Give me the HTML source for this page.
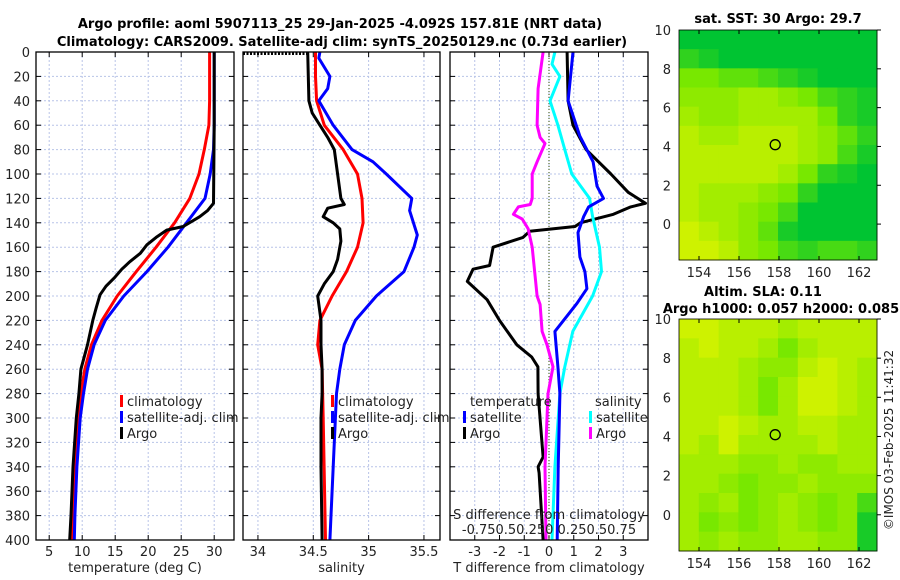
<!DOCTYPE html>
<html><head><meta charset="utf-8"><style>
html,body{margin:0;padding:0;background:#fff;}
svg{display:block;font-family:"DejaVu Sans","Liberation Sans",sans-serif;}
</style></head><body>
<svg id="fig" width="900" height="580" viewBox="0 0 900 580" xmlns="http://www.w3.org/2000/svg">
<text x="340" y="28" font-size="13" font-weight="bold" text-anchor="middle" fill="#000">Argo profile: aoml 5907113_25 29-Jan-2025 -4.092S 157.81E (NRT data)</text>
<text x="342" y="46" font-size="13" font-weight="bold" text-anchor="middle" fill="#000">Climatology: CARS2009. Satellite-adj clim: synTS_20250129.nc (0.73d earlier)</text>
<text x="778" y="23" font-size="13" font-weight="bold" text-anchor="middle">sat. SST: 30 Argo: 29.7</text>
<text x="763" y="296" font-size="13" font-weight="bold" text-anchor="middle">Altim. SLA: 0.11</text>
<text x="781" y="313" font-size="13" font-weight="bold" text-anchor="middle">Argo h1000: 0.057 h2000: 0.085</text>
<text transform="translate(893,440) rotate(-90)" font-size="12" text-anchor="middle" fill="#222">©IMOS 03-Feb-2025 11:41:32</text>
<g id="plots"></g>
</svg>
<script>
// ---- depths and series (temperature panel)
const tClimDepth=[0,20,40,60,80,100,120,140,160,180,200,220,240,260,280,300,340,380,400];
const tClimVal=[29.3,29.3,29.3,29.2,28.5,27.7,26.3,24.0,21.2,18.2,15.3,13.0,11.4,10.4,9.8,9.4,8.9,8.6,8.5];
const tSatDepth=[0,60,80,100,120,140,160,180,200,220,240,260,280,300,340,380,400];
const tSatVal=[30.0,30.0,29.9,29.4,28.6,25.8,23.0,19.8,16.3,13.5,11.8,10.8,10.2,9.7,9.2,8.9,8.8];
const tArgoDepth=[0,60,124,130,135,143,146,152,158,165,172,178,185,192,199,210,220,240,260,280,300,340,380,400];
const tArgoVal=[30.0,30.0,29.9,29.0,27.8,25.3,22.8,21.2,19.8,18.8,17.2,16.0,14.9,13.6,12.7,12.1,11.6,10.8,9.8,9.5,9.1,8.6,8.3,8.1];
// salinity panel
const sClimDepth=[0,20,40,60,80,100,120,140,160,180,200,220,240,260,300,400];
const sClimVal=[34.52,34.52,34.53,34.60,34.77,34.90,34.94,34.95,34.90,34.80,34.67,34.56,34.54,34.58,34.59,34.61];
const sSatDepth=[0,5,20,30,40,60,80,90,100,120,130,150,160,180,200,220,240,260,280,300,340,400];
const sSatVal=[34.56,34.55,34.65,34.63,34.55,34.68,34.85,35.04,35.16,35.39,35.37,35.44,35.41,35.32,35.07,34.88,34.78,34.74,34.71,34.70,34.68,34.65];
const sArgoDepth=[0,40,50,60,70,80,100,120,125,128,135,140,145,155,170,180,190,200,220,240,260,280,300,340,400];
const sArgoVal=[34.45,34.46,34.49,34.56,34.63,34.69,34.72,34.75,34.78,34.63,34.59,34.68,34.74,34.75,34.72,34.68,34.60,34.54,34.57,34.57,34.58,34.58,34.57,34.57,34.58];
// difference panel
const dTSatDepth=[0,40,69,90,110,120,127,135,148,168,180,194,206,229,258,280,340,400];
const dTSatVal=[0.97,0.77,1.25,1.78,1.94,2.2,1.6,1.4,1.17,1.25,1.45,1.53,1.13,0.24,0.36,0.44,0.37,0.33];
const dTArgoDepth=[0,40,60,80,100,115,124,127,133,140,143,147,152,160,175,178,188,203,220,240,250,258,280,332,340,345,400];
const dTArgoVal=[0.73,0.77,0.97,1.5,2.5,3.2,3.9,3.3,2.6,1.27,1.05,-0.78,-1.05,-2.26,-2.4,-3.07,-3.3,-2.5,-2.0,-1.3,-0.7,-0.45,-0.44,-0.24,-0.44,-0.4,-0.24];
const dSArgoDepth=[0,30,60,70,75,90,100,120,125,127,133,137,145,160,200,207,229,240,258,280,340,400];
const dSArgoVal=[-0.06,-0.11,-0.12,-0.09,-0.04,-0.12,-0.17,-0.17,-0.19,-0.31,-0.36,-0.27,-0.21,-0.17,-0.12,-0.09,-0.07,-0.02,0.04,-0.01,-0.04,-0.03];
const dSSatDepth=[0,10,20,40,60,80,100,120,135,160,180,200,229,258,280,340,400];
const dSSatVal=[0.06,0.03,0.11,0.01,0.09,0.16,0.23,0.41,0.44,0.51,0.53,0.44,0.24,0.16,0.11,0.06,0.03];
// axes ticks
const depthTicks=[0,20,40,60,80,100,120,140,160,180,200,220,240,260,280,300,320,340,360,380,400];
const tTicks=[5,10,15,20,25,30];
const sTicks=[34,34.5,35,35.5];
const sTickLabels=["34","34.5","35","35.5"];
const dTTicks=[-3,-2,-1,0,1,2,3];
// maps
const mapLonTicks=[154,156,158,160,162];
const mapLatTicks=[0,2,4,6,8];
const sstGrid=[
[0,0,0,0,0,0,0,0,0,0],
[.2,.1,0,0,0,0,0,0,0,0],
[.5,.5,.4,.4,.3,.2,.1,0,0,0],
[.6,.6,.6,.7,.7,.6,.5,.3,.2,.1],
[.7,.6,.6,.7,.7,.7,.7,.5,.2,.1],
[.8,.7,.7,.8,.8,.8,.7,.6,.4,.2],
[.8,.8,.8,.8,.8,.8,.7,.6,.3,.1],
[.8,.8,.8,.8,.8,.7,.5,.2,.1,0],
[.8,.7,.7,.7,.6,.5,.2,0,0,0],
[.8,.7,.7,.6,.5,.3,0,0,0,0],
[.9,.8,.7,.6,.4,.1,0,0,0,0],
[.9,.9,.8,.6,.5,.3,.2,.3,.3,.2]];
const slaGrid=[
[.9,.9,.8,.8,.8,.7,.8,.8,.8,.8],
[.8,.9,.8,.8,.7,.5,.7,.8,.8,.8],
[.8,.8,.8,.7,.6,.6,.8,.9,.8,.7],
[.8,.8,.8,.7,.5,.7,.9,.9,.8,.7],
[.8,.8,.8,.7,.5,.7,.9,.9,.8,.7],
[.8,.8,.9,.8,.7,.7,.8,.8,.7,.7],
[.8,.7,.9,.7,.7,.7,.7,.8,.7,.7],
[.7,.7,.7,.6,.6,.7,.6,.6,.7,.7],
[.7,.7,.6,.5,.6,.6,.7,.6,.6,.6],
[.7,.6,.7,.5,.6,.7,.6,.5,.6,.3],
[.7,.5,.6,.5,.6,.7,.6,.5,.6,.1],
[.7,.6,.7,.6,.6,.7,.7,.6,.6,.1]];
const argoLon=[157.81];
const argoLat=[4.09];

const NS="http://www.w3.org/2000/svg";
const root=document.getElementById('plots');
function el(tag,attrs,parent){const e=document.createElementNS(NS,tag);for(const k in attrs)e.setAttribute(k,attrs[k]);(parent||root).appendChild(e);return e;}
const Y0=52,Y1=540;
function yD(d){return Y0+(d/400)*(Y1-Y0);}

function panel(name,x0,x1,dmin,dmax,ticks,labels,xlabel,showDepth){
  const g=el('g',{});
  
  
  const xs=v=>x0+(v-dmin)/(dmax-dmin)*(x1-x0);
  depthTicks.forEach(d=>{
    const l=el('line',{x1:x0,x2:x1,y1:yD(d),y2:yD(d),stroke:'#b8c4e8','stroke-width':1,'stroke-dasharray':'2,2'},g);
    
    
    el('line',{x1:x0,x2:x0+5,y1:yD(d),y2:yD(d),stroke:'#000'},g);
    el('line',{x1:x1-5,x2:x1,y1:yD(d),y2:yD(d),stroke:'#000'},g);
    if(showDepth){const t=el('text',{x:x0-6,y:yD(d)+5,'font-size':13,'text-anchor':'end',fill:'#222'},g);t.textContent=d;
      
      }
  });
  ticks.forEach((v,i)=>{
    const x=xs(v);
    el('line',{x1:x,x2:x,y1:Y0,y2:Y1,stroke:'#b8c4e8','stroke-width':1,'stroke-dasharray':'2,2'},g);
    el('line',{x1:x,x2:x,y1:Y1,y2:Y1-5,stroke:'#000'},g);
    el('line',{x1:x,x2:x,y1:Y0,y2:Y0+5,stroke:'#000'},g);
    const t=el('text',{x:x,y:556,'font-size':13,'text-anchor':'middle',fill:'#222'},g);t.textContent=labels[i];
    
    
  });
  const xl=el('text',{x:(x0+x1)/2,y:572,'font-size':13,'text-anchor':'middle',fill:'#222'},g);xl.textContent=xlabel;
  
  
  return {g,xs};
}
function series(p,depths,vals,color,name,w){
  const pts=depths.map((d,i)=>p.xs(vals[i]).toFixed(1)+','+yD(d).toFixed(1)).join(' ');
  const l=el('polyline',{points:pts,fill:'none',stroke:color,'stroke-width':w||3,'stroke-linejoin':'round'},p.g);
  
  
}
function frame(p,x0,x1){const r=el('rect',{x:x0,y:Y0,width:x1-x0,height:Y1-Y0,fill:'none',stroke:'#000','stroke-width':1.3},p.g);
  
  }
function legend(p,x,y,items){
  items.forEach((it,i)=>{
    const yy=y+i*16;
    el('rect',{x:x,y:yy-11,width:3,height:12,fill:it[0]},p.g);
    const t=el('text',{x:x+7,y:yy,'font-size':13,fill:'#222'},p.g);t.textContent=it[1];
    
    
  });
}
// panel 1
const p1=panel('temperature-panel',36,234,3,33,tTicks,tTicks.map(String),'temperature (deg C)',true);
series(p1,tClimDepth,tClimVal,'#ff0000','temp-climatology-line');
series(p1,tSatDepth,tSatVal,'#0000ff','temp-satellite-line');
series(p1,tArgoDepth,tArgoVal,'#000','temp-argo-line');
legend(p1,120,406,[['#ff0000','climatology'],['#0000ff','satellite-adj. clim'],['#000','Argo']]);
frame(p1,36,234);
// panel 2
const p2=panel('salinity-panel',243,440,33.865,35.645,sTicks,sTickLabels,'salinity',false);
el('line',{x1:243,x2:307,y1:53.5,y2:53.5,stroke:'#000','stroke-width':3,'stroke-dasharray':'2,1.5'},p2.g);
series(p2,sClimDepth,sClimVal,'#ff0000','sal-climatology-line');
series(p2,sSatDepth,sSatVal,'#0000ff','sal-satellite-line');
series(p2,sArgoDepth,sArgoVal,'#000','sal-argo-line');
legend(p2,331,406,[['#ff0000','climatology'],['#0000ff','satellite-adj. clim'],['#000','Argo']]);
frame(p2,243,440);
// panel 3
const p3=panel('difference-panel',450,648,-4,4,dTTicks,dTTicks.map(String),'T difference from climatology',false);
el('line',{x1:549,x2:549,y1:Y0,y2:Y1,stroke:'#556b2f','stroke-width':1.2,'stroke-dasharray':'1,2'},p3.g);
const p3s={g:p3.g,xs:v=>549+v*99};
series(p3,dTArgoDepth,dTArgoVal,'#000','dT-argo-line');
series(p3s,dSSatDepth,dSSatVal,'#00ffff','dS-satellite-line');
series(p3s,dSArgoDepth,dSArgoVal,'#ff00ff','dS-argo-line');
series(p3,dTSatDepth,dTSatVal,'#0000ff','dT-satellite-line');
let lt=el('text',{x:470,y:406,'font-size':13,fill:'#222'},p3.g);lt.textContent='temperature';


lt=el('text',{x:595,y:406,'font-size':13,fill:'#222'},p3.g);lt.textContent='salinity';


legend(p3,463,422,[['#0000ff','satellite'],['#000','Argo']]);
legend(p3,589,422,[['#00ffff','satellite'],['#ff00ff','Argo']]);
lt=el('text',{x:549,y:519,'font-size':13,'text-anchor':'middle',fill:'#222'},p3.g);lt.textContent='S difference from climatology';


lt=el('text',{x:549,y:534,'font-size':13,'text-anchor':'middle',fill:'#222'},p3.g);lt.textContent='-0.750.50.250 0.250.50.75';


frame(p3,450,648);

// maps
function col(v){
  const a=[0,196,50],b=[120,232,0],c=[228,244,0];
  let p,q,t;
  if(v<0.5){p=a;q=b;t=v/0.5;}else{p=b;q=c;t=(v-0.5)/0.5;}
  return 'rgb('+p.map((x,i)=>Math.round(x+(q[i]-x)*t)).join(',')+')';
}
function map(name,top,bot,grid){
  const g=el('g',{});
  
  
  const L=679,R=877,lon0=153,lon1=162.9,lat1=10,lat0=-1.85;
  const xm=lo=>L+(lo-lon0)/(lon1-lon0)*(R-L);
  const ym=la=>top+(lat1-la)/(lat1-lat0)*(bot-top);
  const rows=grid.length,cols=grid[0].length;
  const cw=(R-L)/cols,ch=(bot-top)/rows;
  grid.forEach((row,r)=>row.forEach((v,c)=>{
    const cell=el('rect',{x:L+c*cw,y:top+r*ch,width:cw+0.5,height:ch+0.5,fill:col(v)},g);
    
    
  }));
  el('rect',{x:L,y:top,width:R-L,height:bot-top,fill:'none',stroke:'#000','stroke-width':0.8},g);
  mapLonTicks.forEach(lo=>{const x=xm(lo);el('line',{x1:x,x2:x,y1:bot,y2:bot-4,stroke:'#000'},g);el('line',{x1:x,x2:x,y1:top,y2:top+4,stroke:'#000'},g);
    const t=el('text',{x:x,y:bot+17,'font-size':13,'text-anchor':'middle',fill:'#222'},g);t.textContent=lo;
    
    });
  mapLatTicks.concat([10]).forEach(la=>{const y=ym(la);el('line',{x1:R,x2:R+4,y1:y,y2:y,stroke:'#000'},g);
    const t=el('text',{x:L-8,y:y+5,'font-size':13,'text-anchor':'end',fill:'#222'},g);t.textContent=la;
    
    });
  argoLon.forEach((lo,i)=>{const c=el('circle',{cx:xm(lo),cy:ym(argoLat[i]),r:5,fill:'none',stroke:'#000','stroke-width':1.3},g);
    
    });
}
map('sst-map',30,260,sstGrid);
map('sla-map',319,551,slaGrid);
</script>
</body></html>
